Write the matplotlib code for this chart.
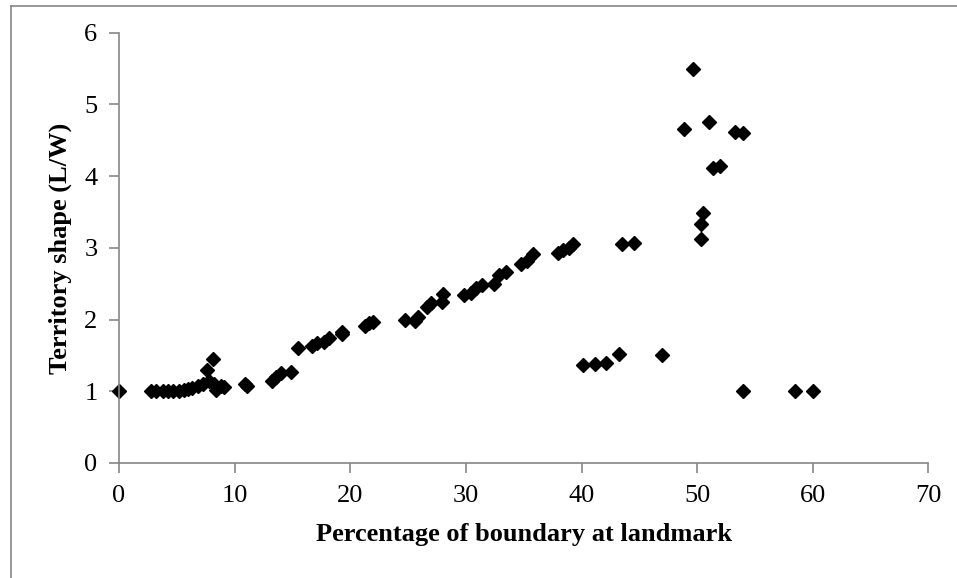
import matplotlib.pyplot as plt
from matplotlib.lines import Line2D

# percentage of boundary at landmark (x) and territory shape L/W (y)
pct = [0.0,
       2.8, 3.2, 3.8, 4.2, 4.7, 5.2, 5.6, 6.0, 6.3, 6.8, 7.3, 7.6, 7.8, 8.1, 8.2, 8.4, 8.8, 9.1,
       10.9, 11.1,
       13.2, 13.6, 14.0, 14.9, 15.5,
       16.7, 17.1, 17.7, 18.2, 19.3, 19.3,
       21.3, 21.6, 22.0,
       24.7, 25.6, 25.9, 26.6, 27.0, 27.9, 28.0,
       29.8, 30.4, 30.9, 31.4, 32.4, 32.9, 33.5, 34.8, 35.3, 35.8,
       38.0, 38.4, 38.9, 39.3,
       40.1, 41.2, 42.1, 43.2, 43.5, 44.5, 47.0,
       48.9, 49.6, 50.3, 50.3, 50.5, 51.0, 51.4, 52.0, 53.3, 54.0, 54.0,
       58.5, 60.0]
shape = [1.0,
         1.0, 1.0, 1.0, 1.0, 1.0, 1.0, 1.02, 1.03, 1.05, 1.07, 1.1, 1.3, 1.15, 1.45, 1.1, 1.02, 1.07, 1.06,
         1.1, 1.08,
         1.14, 1.2, 1.26, 1.27, 1.6,
         1.63, 1.67, 1.69, 1.74, 1.83, 1.8,
         1.91, 1.95, 1.97,
         2.0, 1.98, 2.03, 2.18, 2.23, 2.25, 2.35,
         2.34, 2.37, 2.44, 2.48, 2.5, 2.62, 2.67, 2.77, 2.81, 2.91,
         2.93, 2.97, 3.0, 3.06,
         1.36, 1.38, 1.4, 1.52, 3.06, 3.07, 1.5,
         4.66, 5.49, 3.13, 3.33, 3.49, 4.75, 4.11, 4.14, 4.61, 4.6, 1.0,
         1.0, 1.0]

plt.rcParams['font.family'] = 'Liberation Serif'

fig = plt.figure(figsize=(9.57, 5.78), dpi=100)
ax = fig.add_axes([0.1243, 0.199, 0.8459, 0.7443])

ax.plot(pct, shape, linestyle='none', marker='D', markersize=6.8,
        color='black', clip_on=False)

ax.set_xlim(0, 70)
ax.set_ylim(0, 6)
ax.set_xticks(range(0, 71, 10))
ax.set_yticks(range(0, 7))

gray = '#868686'
for side in ['top', 'right']:
    ax.spines[side].set_visible(False)
for side in ['left', 'bottom']:
    ax.spines[side].set_color(gray)
    ax.spines[side].set_linewidth(1.2)
ax.tick_params(direction='out', length=7, width=1.2, color=gray,
               labelsize=19, pad=8.5)

ax.set_xlabel('Percentage of boundary at landmark', fontsize=19,
              fontweight='bold', labelpad=12)
ax.set_ylabel('Territory shape (L/W)', fontsize=19, fontweight='bold',
              labelpad=8.5)

# chart area border
fig.add_artist(Line2D([11/957, 11/957], [0, 1 - 6/578], color=gray, lw=1.2))
fig.add_artist(Line2D([11/957, 1], [1 - 6/578, 1 - 6/578], color=gray, lw=1.2))

fig.savefig('out.png', dpi=100)
